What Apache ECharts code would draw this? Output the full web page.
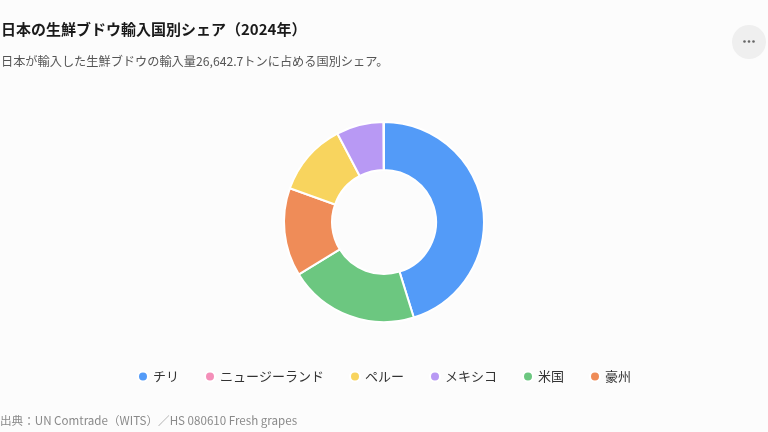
<!DOCTYPE html>
<html>
<head>
<meta charset="utf-8">
<script src="https://cdn.jsdelivr.net/npm/echarts@6/dist/echarts.min.js"></script>
<style>
  html, body { margin: 0; padding: 0; background: #fcfcfc; }
  #chart { width: 768px; height: 432px; }
</style>
</head>
<body>
<div id="chart"></div>
<script>
// slice order (clockwise from top) and values in tonnes, 2024
var countries = ['チリ', '米国', '豪州', 'ペルー', 'メキシコ', 'ニュージーランド'];
var tonnes = [12040.2, 5600.0, 3800.0, 3145.0, 2039.8, 17.7];
var colors = ['#539BF8', '#6CC780', '#EF8C58', '#F8D45E', '#B899F4', '#F48FB9'];
// legend keeps its own order
var legendOrder = ['チリ', 'ニュージーランド', 'ペルー', 'メキシコ', '米国', '豪州'];

var font = '"Noto Sans CJK JP", "Noto Sans", sans-serif';

var pieData = [];
for (var i = 0; i < countries.length; i++) {
    pieData.push({ name: countries[i], value: tonnes[i], itemStyle: { color: colors[i] } });
}

var chart = echarts.init(document.getElementById('chart'));

var option = {
    backgroundColor: '#fcfcfc',
    animation: false,
    title: {
        text: '日本の生鮮ブドウ輸入国別シェア（2024年）',
        subtext: '日本が輸入した生鮮ブドウの輸入量26,642.7トンに占める国別シェア。',
        left: 0,
        top: 22,
        padding: [0, 0, 0, 1],
        itemGap: 18,
        textStyle: { fontFamily: font, fontSize: 15, fontWeight: 'bold', color: '#1a1a1a' },
        subtextStyle: { fontFamily: font, fontSize: 12.2, color: '#555555' }
    },
    legend: {
        data: legendOrder,
        top: 365,
        left: 'center',
        icon: 'circle',
        itemWidth: 10,
        itemHeight: 10,
        itemGap: 25,
        textStyle: { fontFamily: font, fontSize: 13, color: '#333333' }
    },
    graphic: [
        {
            type: 'circle',
            shape: { cx: 749, cy: 42, r: 17 },
            style: { fill: '#efefef' }
        },
        { type: 'circle', shape: { cx: 744.5, cy: 41.5, r: 1.3 }, style: { fill: '#666666' } },
        { type: 'circle', shape: { cx: 749, cy: 41.5, r: 1.3 }, style: { fill: '#666666' } },
        { type: 'circle', shape: { cx: 753.5, cy: 41.5, r: 1.3 }, style: { fill: '#666666' } },
        {
            type: 'text',
            left: 0,
            top: 415,
            style: {
                text: '出典：UN Comtrade（WITS）／HS 080610 Fresh grapes',
                fontSize: 11.6,
                fill: '#8a8a8a',
                fontFamily: font
            }
        }
    ],
    series: [
        {
            name: '輸入量',
            type: 'pie',
            radius: [52, 100],
            center: [384, 222],
            startAngle: 90,
            clockwise: true,
            label: { show: false },
            labelLine: { show: false },
            itemStyle: { borderColor: '#ffffff', borderWidth: 2 },
            data: pieData
        }
    ]
};

chart.setOption(option);
</script>
</body>
</html>
